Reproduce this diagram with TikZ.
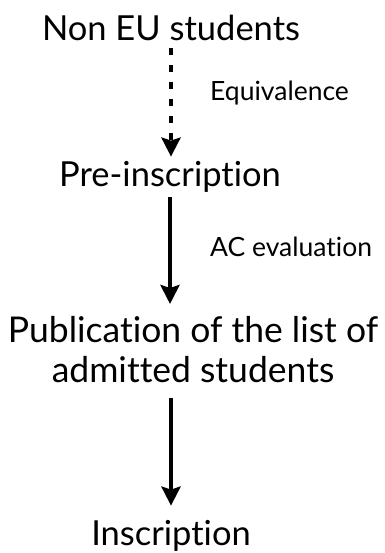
\documentclass[tikz,border=0pt]{standalone}
\usepackage{fontspec}
\setmainfont{Lato}[Ligatures=NoCommon]
\usetikzlibrary{arrows.meta}
\begin{document}
\begin{tikzpicture}[x=1pt,y=-1pt,
  big/.style={font=\fontsize{34.5}{40}\selectfont, inner sep=0pt, align=center},
  lbl/.style={font=\fontsize{26.5}{30}\selectfont, inner sep=0pt, anchor=base west},
  flow/.style={line width=4pt, -{Stealth[width=19pt,length=19pt,inset=3pt]}}]
\useasboundingbox[fill=white] (0,0) rectangle (384,553);
\node[big, anchor=base] (a) at (171,41) {Non EU students};
\node[big, anchor=base] (b) at (170,187) {Pre-inscription};
\node[big, anchor=north, font=\fontsize{35.5}{40}\selectfont] (c) at (193,316) {Publication of the list of\\admitted students};
\node[big, anchor=base] (d) at (171,545) {Inscription};
\node[lbl] (e) at (210,101) {Equivalence};
\node[lbl] (f) at (210,256) {AC evaluation};
\draw[flow, dash pattern=on 7pt off 10pt, shorten <=7pt, shorten >=5pt] (a.south) -- (a.south |- b.north);
\draw[flow, shorten <=4pt, shorten >=12pt] (b.south) -- (b.south |- c.north);
\draw[flow, shorten <=15pt, shorten >=14pt] (c.south -| d.north) -- (d.north);
\end{tikzpicture}
\end{document}
